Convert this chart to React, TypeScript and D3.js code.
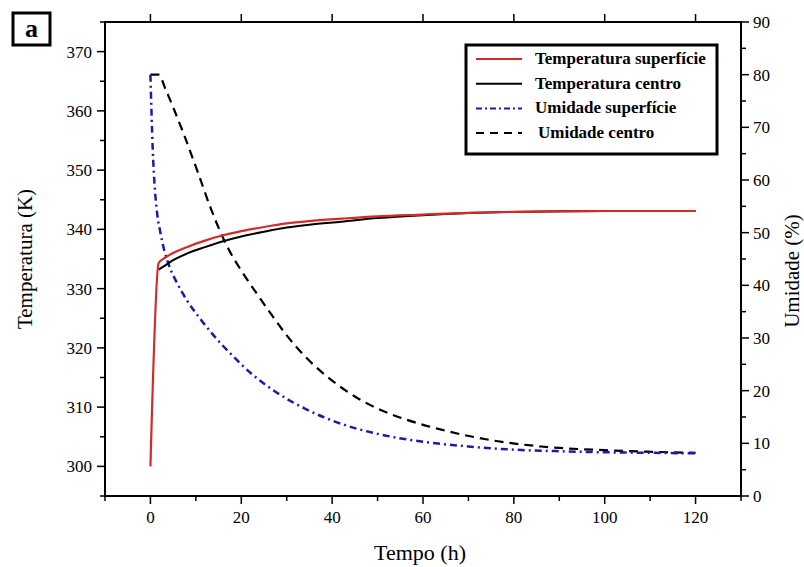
import React from "react";
import * as d3 from "d3";

// ---- data ----
const tempSurfTime = [0, 1.8, 3, 5, 8, 12, 16, 20, 25, 30, 35, 42, 50, 60, 70, 80, 90, 100, 110, 120];
const tempSurfVal = [300, 334.3, 335.1, 336.0, 337.0, 338.1, 339.0, 339.7, 340.4, 341.0, 341.4, 341.8, 342.2, 342.5, 342.8, 342.95, 343.05, 343.1, 343.1, 343.1];

const tempCenterTime = [1.8, 3, 5, 8, 12, 16, 20, 25, 30, 35, 42, 50, 60, 70, 80, 90, 100, 110, 120];
const tempCenterVal = [333.2, 333.8, 334.8, 335.9, 337.0, 338.0, 338.8, 339.6, 340.3, 340.8, 341.3, 341.9, 342.4, 342.75, 342.95, 343.05, 343.1, 343.1, 343.1];

const humSurfTime = [0, 0.5, 1, 1.5, 2.2, 3, 4, 6, 8, 11, 14, 18, 22, 27, 34, 42, 50, 60, 70, 80, 90, 100, 110, 120];
const humSurfVal = [80, 66, 58, 53.5, 50, 46.8, 44, 40.2, 37.2, 33.6, 30.4, 26.7, 23.4, 20.1, 16.6, 13.7, 11.8, 10.3, 9.4, 8.8, 8.5, 8.3, 8.2, 8.1];

const humCenterTime = [0, 1.8, 3.3, 5, 7.3, 10.3, 13.2, 16.1, 18, 20, 24, 27, 30, 34.5, 40, 45, 50, 56, 64, 75, 86, 100, 110, 120];
const humCenterVal = [80, 80, 77.3, 73.8, 68.8, 61.8, 54.8, 48.8, 45.6, 42.8, 37.7, 34.0, 30.5, 26.1, 21.9, 18.9, 16.6, 14.6, 12.6, 10.6, 9.4, 8.7, 8.4, 8.2];

const xTicks = [0, 20, 40, 60, 80, 100, 120];
const leftTicks = [300, 310, 320, 330, 340, 350, 360, 370];
const rightTicks = [0, 10, 20, 30, 40, 50, 60, 70, 80, 90];

const legendLabels = ["Temperatura superfície", "Temperatura centro", "Umidade superfície", "Umidade centro"];

const FONT = "'Liberation Serif', 'Times New Roman', serif";
const RED = "#d42a2a";
const BLUE = "#1c1ca8";

export default function App() {
  const L = 105, R = 741, T = 22, B = 496;
  const x = d3.scaleLinear().domain([-10, 130]).range([L, R]);
  const yL = d3.scaleLinear().domain([295, 375]).range([B, T]);
  const yR = d3.scaleLinear().domain([0, 90]).range([B, T]);

  const lineL = (ts: number[], vs: number[]) =>
    d3.line<number>().x((_, i) => x(ts[i])).y((v) => yL(v)).curve(d3.curveMonotoneX)(vs) || "";
  const lineR = (ts: number[], vs: number[]) =>
    d3.line<number>().x((_, i) => x(ts[i])).y((v) => yR(v)).curve(d3.curveMonotoneX)(vs) || "";

  const xMinor = d3.range(-10, 131, 10).filter((v) => v % 20 !== 0);
  const leftMinor = d3.range(295, 376, 5).filter((v) => v % 10 !== 0);
  const rightMinor = d3.range(5, 90, 10);

  const series = [
    { stroke: RED, dash: "none" },
    { stroke: "#000", dash: "none" },
    { stroke: BLUE, dash: "6,3,2,3" },
    { stroke: "#000", dash: "8,6" },
  ];

  return (
    <svg width={804} height={567} style={{ position: "absolute", left: 0, top: 0, background: "#fff" }} fontFamily={FONT}>
      <rect x={0} y={0} width={804} height={567} fill="#fff" />

      {/* curves */}
      <path d={lineR(humCenterTime, humCenterVal)} fill="none" stroke="#000" strokeWidth={2.2} strokeDasharray="9,6" />
      <path d={lineR(humSurfTime, humSurfVal)} fill="none" stroke={BLUE} strokeWidth={2.5} strokeDasharray="7,4,2,4" />
      <path d={lineL(tempCenterTime, tempCenterVal)} fill="none" stroke="#000" strokeWidth={2} />
      <path d={lineL(tempSurfTime, tempSurfVal)} fill="none" stroke={RED} strokeWidth={2.2} />

      {/* frame */}
      <rect x={L} y={T} width={R - L} height={B - T} fill="none" stroke="#000" strokeWidth={2} />

      {/* bottom axis */}
      {xTicks.map((v) => (
        <g key={"xb" + v}>
          <line x1={x(v)} x2={x(v)} y1={B} y2={B + 8} stroke="#000" strokeWidth={1.5} />
          <line x1={x(v)} x2={x(v)} y1={T} y2={T - 8} stroke="#000" strokeWidth={1.5} />
          <text x={x(v)} y={B + 27} textAnchor="middle" fontSize={17}>{v}</text>
        </g>
      ))}
      {xMinor.map((v) => (
        <line key={"xm" + v} x1={x(v)} x2={x(v)} y1={B} y2={B + 5} stroke="#000" strokeWidth={1.5} />
      ))}

      {/* left axis */}
      {leftTicks.map((v) => (
        <g key={"yl" + v}>
          <line x1={L} x2={L - 8} y1={yL(v)} y2={yL(v)} stroke="#000" strokeWidth={1.5} />
          <text x={L - 13} y={yL(v) + 6} textAnchor="end" fontSize={17}>{v}</text>
        </g>
      ))}
      {leftMinor.map((v) => (
        <line key={"ylm" + v} x1={L} x2={L - 5} y1={yL(v)} y2={yL(v)} stroke="#000" strokeWidth={1.5} />
      ))}

      {/* right axis */}
      {rightTicks.map((v) => (
        <g key={"yr" + v}>
          <line x1={R} x2={R + 8} y1={yR(v)} y2={yR(v)} stroke="#000" strokeWidth={1.5} />
          <text x={R + 12} y={yR(v) + 6} textAnchor="start" fontSize={17}>{v}</text>
        </g>
      ))}
      {rightMinor.map((v) => (
        <line key={"yrm" + v} x1={R} x2={R + 5} y1={yR(v)} y2={yR(v)} stroke="#000" strokeWidth={1.5} />
      ))}

      {/* axis titles */}
      <text x={420} y={560} textAnchor="middle" fontSize={22}>Tempo (h)</text>
      <text transform={`translate(32,${(T + B) / 2}) rotate(-90)`} textAnchor="middle" fontSize={21}>Temperatura (K)</text>
      <text transform={`translate(799,${(T + B) / 2 + 12}) rotate(-90)`} textAnchor="middle" fontSize={21}>Umidade (%)</text>

      {/* panel label */}
      <rect x={13} y={13} width={37} height={32} fill="#fff" stroke="#000" strokeWidth={3} />
      <text x={31.5} y={37} textAnchor="middle" fontSize={26} fontWeight="bold">a</text>

      {/* legend */}
      <rect x={466} y={45} width={251} height={109} fill="#fff" stroke="#000" strokeWidth={3} />
      {legendLabels.map((lab, i) => {
        const yy = 59 + i * 24.7;
        const s = series[i];
        return (
          <g key={lab}>
            <line x1={476} x2={522} y1={yy} y2={yy} stroke={s.stroke} strokeWidth={2} strokeDasharray={s.dash} />
            <text x={i === 3 ? 538 : 535} y={yy + 5} fontSize={17} fontWeight="bold">{lab}</text>
          </g>
        );
      })}
    </svg>
  );
}
